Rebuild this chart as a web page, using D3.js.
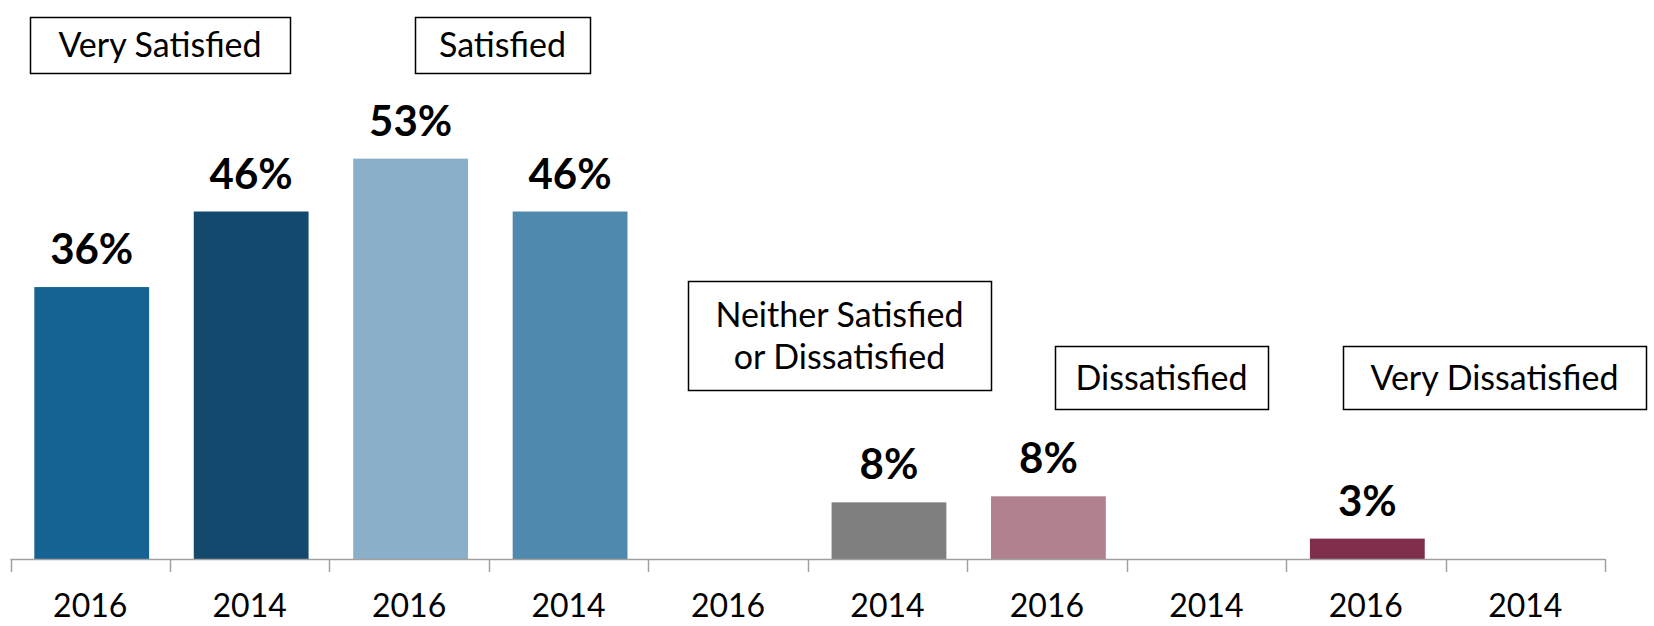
<!DOCTYPE html>
<html>
<head>
<meta charset="utf-8">
<script src="https://cdn.jsdelivr.net/npm/d3@7"></script>
<style>
  html, body { margin: 0; padding: 0; background: #fff; }
  svg { display: block; }
  text { font-family: Lato, "Open Sans", sans-serif; fill: #000; }
</style>
</head>
<body>
<div id="chart"></div>
<script>
// chart data
var years = ["2016", "2014", "2016", "2014", "2016", "2014", "2016", "2014", "2016", "2014"];
var values = [36, 46, 53, 46, null, 7.5, 8.3, null, 2.7, null];
var valueLabels = ["36%", "46%", "53%", "46%", "", "8%", "8%", "", "3%", ""];
var barColors = ["#156293", "#13496D", "#8AAFC8", "#4F89AE", "#fff", "#7F7F7F", "#B28190", "#fff", "#7F2F4D", "#fff"];
var groupNames = [["Very Satisfied"], ["Satisfied"], ["Neither Satisfied", "or Dissatisfied"], ["Dissatisfied"], ["Very Dissatisfied"]];

// where the annotation boxes sit (x0, y0, x1, y1)
var boxLayout = [
  [30, 17, 290, 73],
  [415, 17, 590, 73],
  [688, 281, 991, 390],
  [1055, 346, 1268, 409],
  [1343, 346, 1646, 409]
];

(function () {
    var width = 1654,
        height = 626,
        baseY = 559;

    var svg = d3.select("#chart").append("svg")
        .attr("width", width)
        .attr("height", height);

    svg.append("rect").attr("width", width).attr("height", height).attr("fill", "#fff");

    var x = d3.scaleBand()
        .domain(d3.range(years.length))
        .range([10.5, 1605])
        .paddingInner(0.28)
        .paddingOuter(0.14);

    var y = d3.scaleLinear()
        .domain([0, 74])
        .range([baseY, 0]);

    // bars
    var bars = svg.append("g").selectAll("g.bar")
        .data(values.map(function (v, i) { return { i: i, v: v }; }).filter(function (d) { return d.v != null; }))
        .enter().append("g")
        .attr("class", "bar");

    bars.append("rect")
        .attr("x", function (d) { return x(d.i) + 1.5; })
        .attr("y", function (d) { return y(d.v); })
        .attr("width", x.bandwidth())
        .attr("height", function (d) { return baseY - y(d.v); })
        .attr("fill", function (d) { return barColors[d.i]; });

    bars.append("text")
        .attr("x", function (d) { return x(d.i) + 1.5 + x.bandwidth() / 2; })
        .attr("y", function (d) { return y(d.v) - 23; })
        .attr("text-anchor", "middle")
        .style("font-size", "42px")
        .style("font-weight", "bold")
        .text(function (d) { return valueLabels[d.i]; });

    // category axis, ticks sit between categories
    var axis = svg.append("g").attr("class", "axis");
    var x0 = x.range()[0], x1 = x.range()[1], step = x.step();

    axis.append("line")
        .attr("x1", x0).attr("x2", x1)
        .attr("y1", baseY + 0.5).attr("y2", baseY + 0.5)
        .attr("stroke", "#A0A0A0").attr("stroke-width", 1.5);

    axis.selectAll("line.tick")
        .data(d3.range(years.length + 1))
        .enter().append("line")
        .attr("class", "tick")
        .attr("x1", function (d) { return Math.round(x0 + d * step) + 0.5; })
        .attr("x2", function (d) { return Math.round(x0 + d * step) + 0.5; })
        .attr("y1", baseY).attr("y2", baseY + 13)
        .attr("stroke", "#A0A0A0").attr("stroke-width", 1.5);

    axis.selectAll("text")
        .data(years)
        .enter().append("text")
        .attr("x", function (d, i) { return x(i) + x.bandwidth() / 2; })
        .attr("y", 617)
        .attr("text-anchor", "middle")
        .style("font-size", "32px")
        .text(function (d) { return d; });

    // group boxes
    var boxes = svg.append("g").selectAll("g.box")
        .data(groupNames)
        .enter().append("g")
        .attr("class", "box");

    boxes.append("rect")
        .attr("x", function (d, i) { return boxLayout[i][0] + 0.5; })
        .attr("y", function (d, i) { return boxLayout[i][1] + 0.5; })
        .attr("width", function (d, i) { return boxLayout[i][2] - boxLayout[i][0]; })
        .attr("height", function (d, i) { return boxLayout[i][3] - boxLayout[i][1]; })
        .attr("fill", "#fff")
        .attr("stroke", "#000")
        .attr("stroke-width", 1.5);

    boxes.each(function (lines, i) {
        var b = boxLayout[i],
            cx = (b[0] + b[2]) / 2,
            cy = (b[1] + b[3]) / 2,
            lh = 42;
        d3.select(this).selectAll("text")
            .data(lines)
            .enter().append("text")
            .attr("x", cx)
            .attr("y", function (t, j) { return cy + (j - (lines.length - 1) / 2) * lh + 12; })
            .attr("text-anchor", "middle")
            .style("font-size", "34px")
            .text(function (t) { return t; });
    });
})();
</script>
</body>
</html>
